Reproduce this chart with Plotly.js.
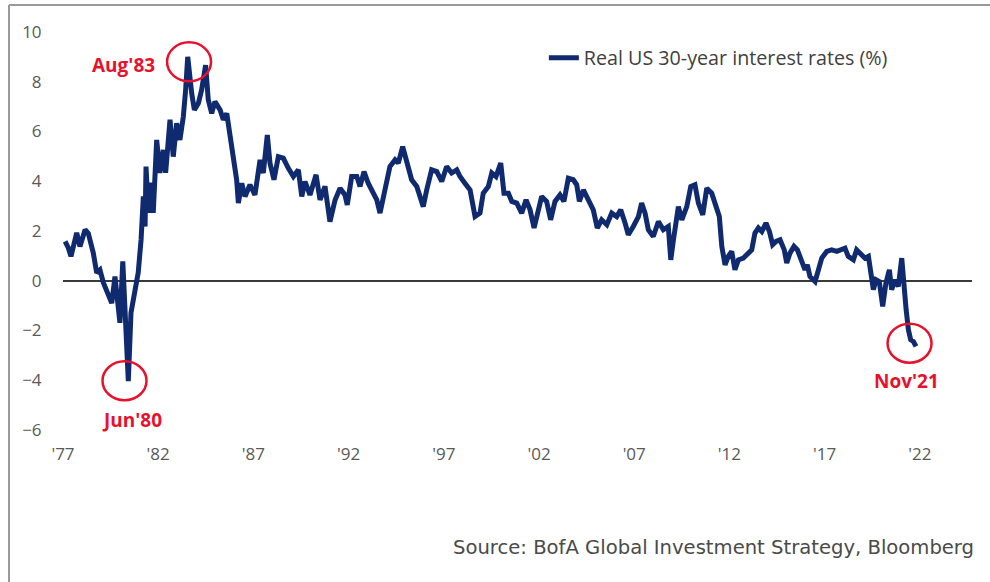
<!DOCTYPE html>
<html>
<head>
<meta charset="utf-8">
<script src="https://cdn.plot.ly/plotly-3.0.1.min.js"></script>
<style>html,body{margin:0;padding:0;background:#fff;}#chart{width:990px;height:582px;}</style>
</head>
<body>
<div id="chart"></div>
<script>
// Decimal years and real US 30-year rates (%)
const years = [
 1977.11,1977.28,1977.42,1977.54,1977.72,1977.89,1978.16,1978.33,1978.59,1978.77,1978.94,
 1979.12,1979.38,1979.56,1979.73,1979.87,1979.99,1980.14,1980.26,1980.43,1980.57,1980.78,1980.95,
 1981.10,1981.22,1981.31,1981.36,1981.48,1981.66,1981.74,1981.92,1982.09,1982.27,1982.39,1982.62,
 1982.79,1982.97,1983.14,1983.32,1983.44,1983.55,1983.76,1983.90,1984.11,1984.28,1984.49,1984.63,
 1984.81,1984.98,1985.25,1985.42,1985.60,1985.77,1985.94,1986.12,1986.21,1986.39,1986.56,1986.82,
 1987.08,1987.35,1987.52,1987.73,1987.87,1988.08,1988.31,1988.57,1988.83,1989.10,1989.36,1989.54,
 1989.71,1989.97,1990.29,1990.50,1990.76,1991.02,1991.29,1991.55,1991.81,1991.93,1992.16,1992.43,
 1992.60,1992.81,1993.03,1993.30,1993.48,1993.65,1993.91,1994.17,1994.44,1994.61,1994.84,1995.05,
 1995.31,1995.58,1995.75,1995.92,1996.10,1996.36,1996.63,1996.89,1997.15,1997.41,1997.68,1997.85,
 1998.11,1998.38,1998.64,1998.90,1999.07,1999.34,1999.52,1999.74,1999.99,2000.16,2000.39,2000.57,
 2000.83,2001.09,2001.32,2001.53,2001.74,2001.96,2002.14,2002.40,2002.61,2002.84,2003.10,2003.31,
 2003.54,2003.80,2003.98,2004.12,2004.33,2004.59,2004.85,2005.06,2005.29,2005.56,2005.82,2006.08,
 2006.29,2006.52,2006.69,2006.95,2007.22,2007.39,2007.57,2007.74,2008.00,2008.27,2008.53,2008.79,
 2008.92,2009.06,2009.32,2009.50,2009.76,2009.97,2010.19,2010.37,2010.60,2010.81,2011.07,2011.30,
 2011.47,2011.60,2011.77,2011.94,2012.12,2012.29,2012.47,2012.73,2012.99,2013.17,2013.34,2013.52,
 2013.70,2013.92,2014.10,2014.27,2014.45,2014.66,2014.88,2015.01,2015.18,2015.39,2015.57,2015.80,
 2015.97,2016.09,2016.23,2016.50,2016.67,2016.85,2017.11,2017.37,2017.64,2017.90,2018.07,2018.24,
 2018.51,2018.68,2018.90,2019.12,2019.30,2019.44,2019.56,2019.70,2019.87,2020.05,2020.22,2020.40,
 2020.52,2020.70,2020.87,2021.05,2021.17,2021.28,2021.40,2021.52,2021.66,2021.80
];
const realRates = [
 1.58,1.32,0.98,1.45,1.93,1.38,2.05,1.90,1.12,0.32,0.44,
 -0.08,-0.63,-0.90,0.17,-1.03,-1.69,0.78,-1.69,-4.04,-1.29,-0.23,0.32,
 1.65,3.39,2.18,4.59,2.73,3.94,2.73,5.66,4.34,5.26,4.34,6.47,
 4.99,6.33,5.66,6.60,7.67,9.00,7.53,6.87,7.13,7.67,8.67,7.27,
 6.73,7.20,6.87,6.47,6.73,5.80,5.13,4.06,3.12,3.92,3.39,3.86,
 3.45,4.86,4.33,5.86,4.73,4.06,4.99,4.93,4.53,4.19,4.46,3.39,
 3.99,3.45,4.26,3.25,3.79,2.38,3.25,3.72,3.45,3.05,4.19,4.19,
 3.79,4.39,3.92,3.52,3.25,2.72,3.65,4.59,4.86,4.73,5.39,4.86,
 4.06,3.79,3.39,2.98,3.65,4.46,4.39,3.99,4.59,4.33,4.46,4.19,
 3.92,3.65,2.58,2.72,3.52,3.79,4.33,4.19,4.73,3.52,3.52,3.19,
 3.12,2.72,3.25,2.85,2.12,2.85,3.39,3.19,2.45,3.19,3.45,3.19,
 4.12,4.06,3.86,3.19,3.65,3.25,2.85,2.12,2.45,2.25,2.72,2.58,
 2.85,2.32,1.85,2.18,2.58,3.12,2.72,2.05,1.78,2.38,2.05,2.18,
 0.84,1.65,2.98,2.45,2.98,3.79,3.86,3.12,2.65,3.72,3.52,2.98,
 2.58,1.38,0.64,0.98,1.18,0.44,0.84,0.91,1.11,1.24,1.92,2.12,
 1.98,2.32,1.98,1.45,1.58,1.65,1.24,0.71,1.11,1.38,1.24,0.84,
 0.44,0.64,0.17,-0.03,0.44,0.91,1.18,1.24,1.18,1.24,1.31,0.98,
 0.84,1.24,1.04,0.91,0.98,0.17,-0.36,0.04,-0.03,-1.03,-0.09,0.44,
 -0.36,0.04,-0.23,0.91,-0.36,-1.16,-1.97,-2.37,-2.44,-2.64
];
const seriesName = "Real US 30-year interest rates (%)";
const tickYears = [1977,1982,1987,1992,1997,2002,2007,2012,2017,2022];
const tickLabels = ["'77","'82","'87","'92","'97","'02","'07","'12","'17","'22"];
const yTicks = [-6,-4,-2,0,2,4,6,8,10];
// Highlighted extremes: label, circle centre (year, value), label position (year, value)
const markLabels = ["Aug'83","Jun'80","Nov'21"];
const markYears = [1983.62,1980.23,2021.46];
const markValues = [8.8,-4.02,-2.51];
const labelYears = [1980.2,1980.62,2021.32];
const labelValues = [8.67,-5.61,-4.03];
const sourceText = "Source: BofA Global Investment Strategy, Bloomberg";

const navy = '#0f2a6e';
const red = '#e8112d';

const trace = {
  x: years, y: realRates, type: 'scatter', mode: 'lines', name: seriesName,
  line: {color: navy, width: 5}, hoverinfo: 'skip'
};

const shapes = markYears.map((yr, i) => ({
  type: 'circle', xref: 'x', yref: 'y', xsizemode: 'pixel', ysizemode: 'pixel',
  xanchor: yr, yanchor: markValues[i], x0: -22, x1: 22, y0: -19.5, y1: 19.5,
  line: {color: red, width: 2.5}
}));
// frame of the reference image (top and left edges)
shapes.push({type:'line', xref:'paper', yref:'paper', x0:-0.0594, x1:1.03, y0:1.0678, y1:1.0678, line:{color:'#9a9a9a', width:2}});
shapes.push({type:'line', xref:'paper', yref:'paper', x0:-0.0594, x1:-0.0594, y0:1.0678, y1:-0.4, line:{color:'#9a9a9a', width:2}});

const annotations = markLabels.map((t, i) => ({
  x: labelYears[i], y: labelValues[i], xref: 'x', yref: 'y', text: t, showarrow: false,
  xanchor: 'center', yanchor: 'middle', font: {family: 'Open Sans, sans-serif', size: 19, color: red, weight: 'bold'}
}));
annotations.push({
  xref: 'paper', yref: 'paper', x: 1.004, y: -0.2945, xanchor: 'right', yanchor: 'middle',
  text: sourceText, showarrow: false, font: {family: 'DejaVu Sans, sans-serif', size: 19.6, color: '#4a4a4a'}
});

const layout = {
  width: 990, height: 582,
  margin: {l: 63, r: 18, t: 32, b: 152},
  paper_bgcolor: '#ffffff', plot_bgcolor: '#ffffff',
  showlegend: true,
  legend: {x: 0.529, y: 0.935, xanchor: 'left', yanchor: 'middle', bgcolor: 'rgba(0,0,0,0)',
           font: {family: 'Open Sans, sans-serif', size: 19.7, color: '#404040'}},
  xaxis: {range: [1977, 2024.74], tickvals: tickYears, ticktext: tickLabels, showgrid: false,
          zeroline: false, showline: false, ticks: 'outside', ticklen: 9, tickcolor: 'rgba(0,0,0,0)',
          tickfont: {family: 'Open Sans, sans-serif', size: 17, color: '#595959'}},
  yaxis: {range: [-6, 10], tickvals: yTicks, showgrid: false, showline: false,
          zeroline: true, zerolinecolor: '#3a3a3a', zerolinewidth: 2,
          ticks: 'outside', ticklen: 17, tickcolor: 'rgba(0,0,0,0)',
          tickfont: {family: 'Open Sans, sans-serif', size: 17, color: '#595959'}},
  shapes: shapes,
  annotations: annotations
};

Plotly.newPlot('chart', [trace], layout, {staticPlot: true, displayModeBar: false});
</script>
</body>
</html>
